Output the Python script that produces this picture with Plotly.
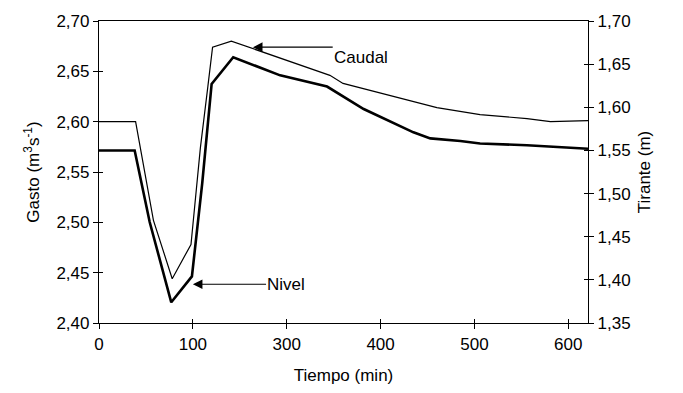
import plotly.graph_objects as go

# Caudal (thin line, left axis "Gasto")
tiempo_caudal = [0, 39, 58, 78, 98, 108, 116, 121, 141, 193, 246, 260, 335, 360, 406, 456, 481, 521]
gasto = [2.600, 2.600, 2.502, 2.444, 2.478, 2.574, 2.635, 2.674, 2.680, 2.663, 2.646, 2.638,
         2.620, 2.614, 2.607, 2.603, 2.600, 2.601]

# Nivel (thick line, right axis "Tirante")
tiempo_nivel = [0, 38, 54, 77, 99, 110, 120, 143, 193, 243, 282, 335, 353, 385, 406, 456, 521]
tirante = [1.550, 1.550, 1.467, 1.374, 1.404, 1.512, 1.627, 1.658, 1.637, 1.624, 1.598, 1.571,
           1.564, 1.561, 1.558, 1.556, 1.552]

x_tickvals = [0, 100, 200, 300, 400, 500]
x_ticktext = ["0", "100", "300", "400", "500", "600"]
x_range = [0, 521]
y_left_range = [2.40, 2.70]
y_right_range = [1.35, 1.70]

FONT = "Liberation Sans, Arial, sans-serif"

fig = go.Figure()
fig.add_trace(go.Scatter(x=tiempo_caudal, y=gasto, mode="lines",
                         line=dict(color="black", width=1.2), yaxis="y", showlegend=False))
fig.add_trace(go.Scatter(x=tiempo_nivel, y=tirante, mode="lines",
                         line=dict(color="black", width=2.6), yaxis="y2", showlegend=False))
# empty traces so the inner-tick overlay axes get drawn
fig.add_trace(go.Scatter(x=[], y=[], xaxis="x3", yaxis="y3", showlegend=False))
fig.add_trace(go.Scatter(x=[], y=[], xaxis="x3", yaxis="y4", showlegend=False))

axis_font = dict(family=FONT, size=17, color="black")

fig.update_layout(
    width=683, height=393,
    margin=dict(l=99, r=95, t=12, b=69),
    paper_bgcolor="white", plot_bgcolor="white",
    separators=",.",
    font=dict(family=FONT, size=17, color="black"),
    xaxis=dict(range=x_range, tickvals=x_tickvals, ticktext=x_ticktext,
               ticks="outside", ticklen=5, tickwidth=1, tickcolor="black",
               showline=True, linecolor="black", linewidth=1.2, mirror=True,
               showgrid=False, zeroline=False, tickfont=axis_font,
               title=dict(text="Tiempo (min)", font=axis_font, standoff=16)),
    yaxis=dict(range=y_left_range, dtick=0.05, tick0=2.40, tickformat=".2f",
               ticks="outside", ticklen=5, tickwidth=1, tickcolor="black",
               showline=True, linecolor="black", linewidth=1.2,
               showgrid=False, zeroline=False, tickfont=axis_font,
               title=dict(text="Gasto (m<sup>3</sup>s<sup>-1</sup>)", font=axis_font, standoff=12)),
    yaxis2=dict(range=y_right_range, dtick=0.05, tick0=1.35, tickformat=".2f",
                overlaying="y", side="right",
                ticks="outside", ticklen=5, tickwidth=1, tickcolor="black",
                showline=True, linecolor="black", linewidth=1.2,
                showgrid=False, zeroline=False, tickfont=axis_font,
                title=dict(text="Tirante (m)", font=axis_font, standoff=8)),
    xaxis3=dict(range=x_range, tickvals=x_tickvals, showticklabels=False,
                overlaying="x", side="bottom", ticks="inside", ticklen=4,
                tickcolor="black", showgrid=False, zeroline=False, showline=False),
    yaxis3=dict(range=y_left_range, dtick=0.05, tick0=2.40, showticklabels=False,
                overlaying="y", side="left", ticks="inside", ticklen=4,
                tickcolor="black", showgrid=False, zeroline=False, showline=False),
    yaxis4=dict(range=y_right_range, dtick=0.05, tick0=1.35, showticklabels=False,
                overlaying="y", side="right", ticks="inside", ticklen=4,
                tickcolor="black", showgrid=False, zeroline=False, showline=False),
)

# Arrows with their labels at the tail
fig.add_annotation(x=164, y=2.674, ax=249, ay=2.674, xref="x", yref="y", axref="x", ayref="y",
                   text="Caudal", xanchor="left", yanchor="top", font=axis_font,
                   showarrow=True, arrowhead=2, arrowsize=1.6, arrowwidth=1.2,
                   arrowcolor="black", standoff=0, borderpad=0)
fig.add_annotation(x=100, y=2.4385, ax=178, ay=2.4385, xref="x", yref="y", axref="x", ayref="y",
                   text="Nivel", xanchor="left", yanchor="middle", font=axis_font,
                   showarrow=True, arrowhead=2, arrowsize=1.6, arrowwidth=1.2,
                   arrowcolor="black", standoff=0, borderpad=0)

fig.write_html("out.html")
